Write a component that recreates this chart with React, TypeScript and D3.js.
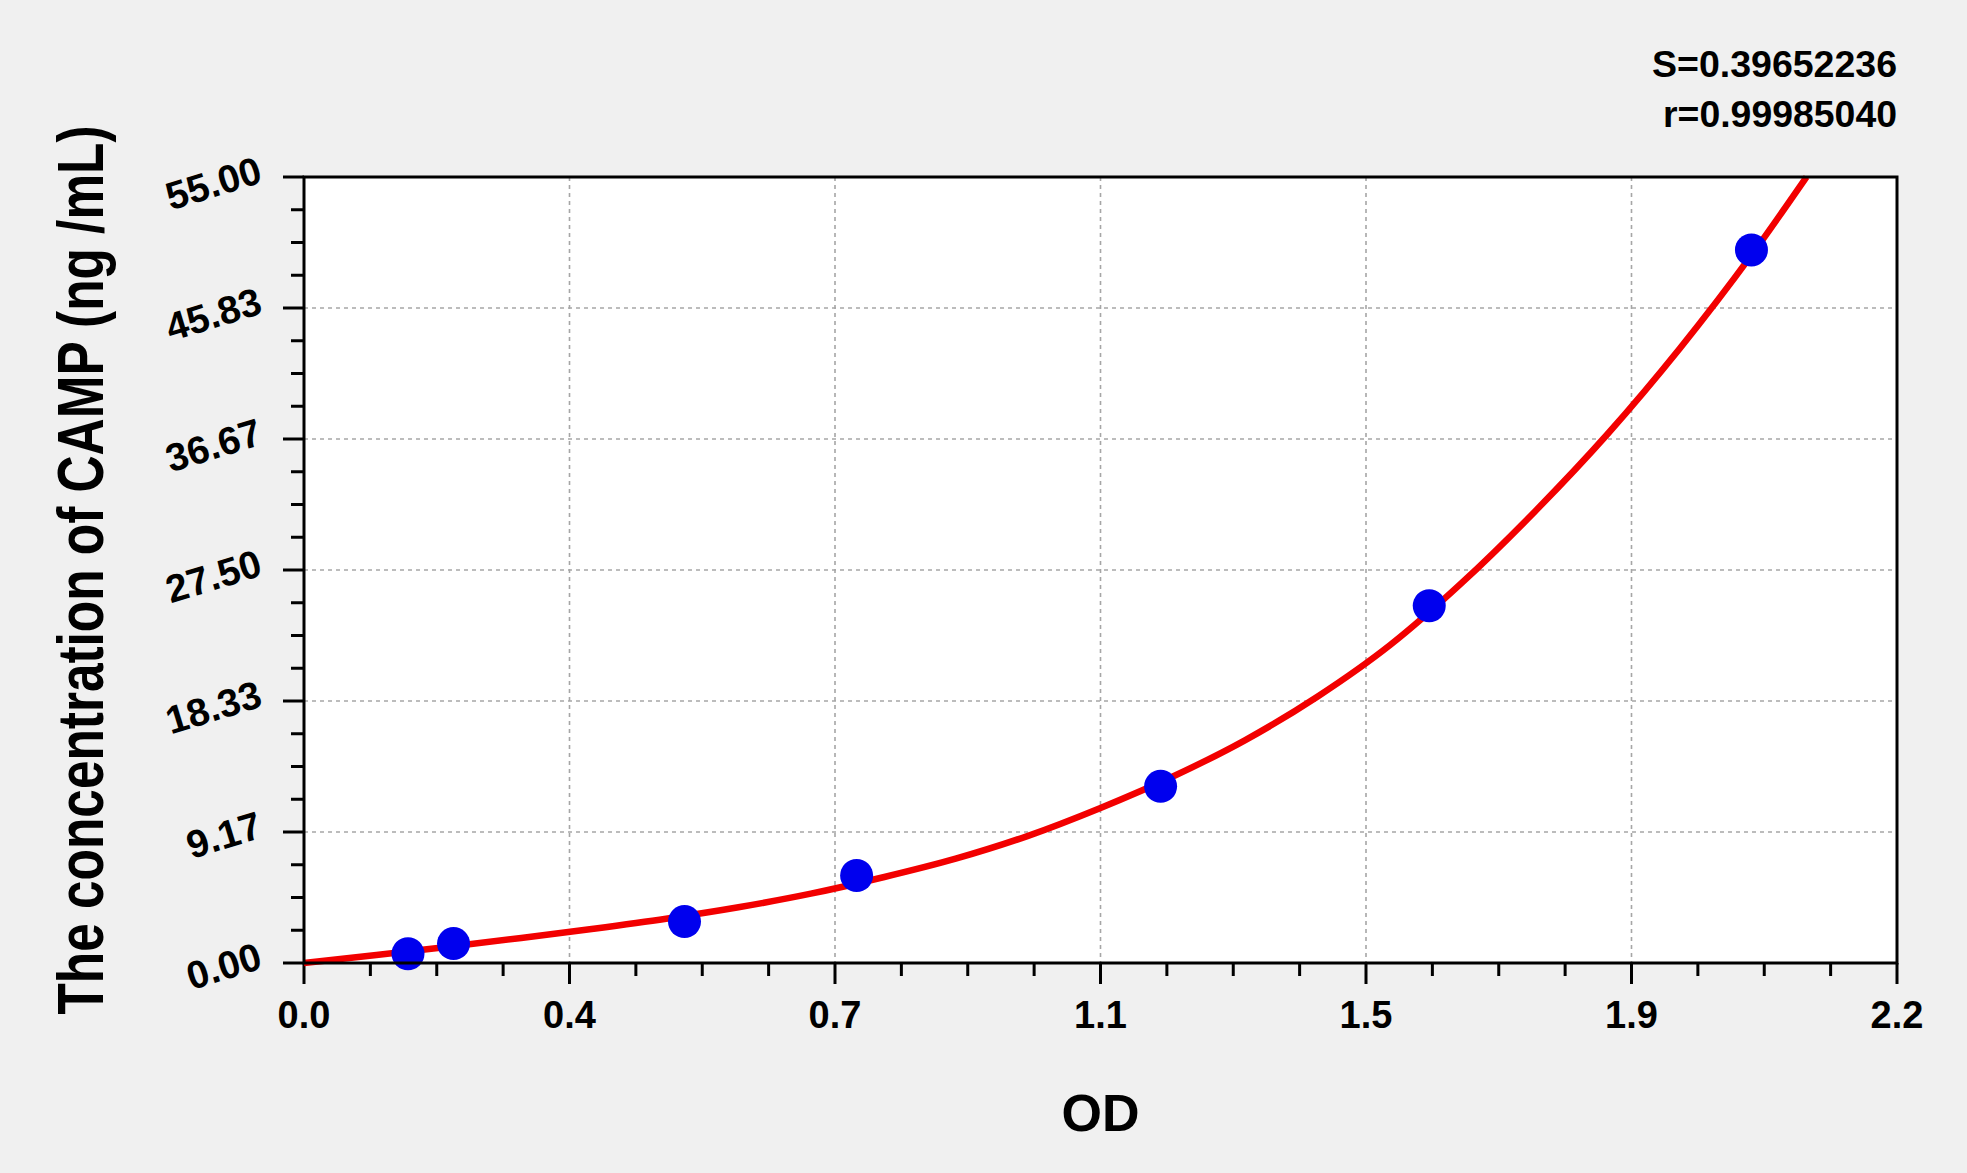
import * as d3 from "d3";

// standard points (OD vs concentration)
const odPoints = [0.1436, 0.2065, 0.5255, 0.7632, 1.183, 1.554, 1.999];
const concPoints = [0.65, 1.36, 2.9, 6.12, 12.36, 25.0, 49.9];

// fitted curve, read at regular OD steps
const fitOd = [0, 0.1, 0.2, 0.3, 0.4, 0.5, 0.6, 0.7, 0.8, 0.9, 1.0, 1.1, 1.2, 1.3, 1.4, 1.5, 1.6, 1.7, 1.8, 1.9, 2.0, 2.075];
const fitConc = [0, 0.56, 1.14, 1.75, 2.4, 3.1, 3.9, 4.85, 6.0, 7.3, 8.9, 10.85, 13.05, 15.6, 18.65, 22.25, 26.65, 31.6, 37.0, 43.0, 49.6, 55];

const xTickLabels = ["0.0", "0.4", "0.7", "1.1", "1.5", "1.9", "2.2"];
const yTickLabels = ["0.00", "9.17", "18.33", "27.50", "36.67", "45.83", "55.00"];

const statLines = ["S=0.39652236", "r=0.99985040"];

const W = 1967;
const H = 1173;
const left = 304;
const right = 1897;
const top = 177;
const bottom = 963;
const font = "'Liberation Sans', Arial, sans-serif";

export default function App() {
    const x = d3.scaleLinear().domain([0, 2.2]).range([left, right]);
    const y = d3.scaleLinear().domain([0, 55]).range([bottom, top]);

    const majorX = d3.range(7).map((i) => (i * 2.2) / 6);
    const majorY = d3.range(7).map((i) => (i * 55) / 6);
    const minorX = d3.range(25).map((i) => (i * 2.2) / 24).filter((_d, i) => i % 4 !== 0);
    const minorY = d3.range(25).map((i) => (i * 55) / 24).filter((_d, i) => i % 4 !== 0);

    const fit = fitOd.map((d, i) => [d, fitConc[i]] as [number, number]);
    const line = d3
        .line<[number, number]>()
        .x((d) => x(d[0]))
        .y((d) => y(d[1]))
        .curve(d3.curveMonotoneX);

    return (
        <svg width={W} height={H} style={{ position: "absolute", left: 0, top: 0 }} fontFamily={font} fontWeight="bold">
            <rect width={W} height={H} fill="#f0f0f0" />
            <rect x={left} y={top} width={right - left} height={bottom - top} fill="#ffffff" />

            {/* grid */}
            <g stroke="#a6a6a6" strokeWidth={1.6} strokeDasharray="4,4">
                {majorX.slice(1, -1).map((d, i) => (
                    <line key={"gx" + i} x1={x(d)} x2={x(d)} y1={top} y2={bottom} />
                ))}
                {majorY.slice(1, -1).map((d, i) => (
                    <line key={"gy" + i} x1={left} x2={right} y1={y(d)} y2={y(d)} />
                ))}
            </g>

            {/* ticks */}
            <g stroke="#000" strokeWidth={3}>
                {majorX.map((d, i) => (
                    <line key={"tx" + i} x1={x(d)} x2={x(d)} y1={bottom} y2={bottom + 21} />
                ))}
                {minorX.map((d, i) => (
                    <line key={"mx" + i} x1={x(d)} x2={x(d)} y1={bottom} y2={bottom + 13} />
                ))}
                {majorY.map((d, i) => (
                    <line key={"ty" + i} x1={left - 21} x2={left} y1={y(d)} y2={y(d)} />
                ))}
                {minorY.map((d, i) => (
                    <line key={"my" + i} x1={left - 13} x2={left} y1={y(d)} y2={y(d)} />
                ))}
            </g>

            {/* fitted curve */}
            <path d={String(line(fit))} fill="none" stroke="#f20000" strokeWidth={6.5} />

            {/* points */}
            <g fill="#0000ee">
                {odPoints.map((d, i) => (
                    <circle key={i} cx={x(d)} cy={y(concPoints[i])} r={16.5} />
                ))}
            </g>

            <rect x={left} y={top} width={right - left} height={bottom - top} fill="none" stroke="#000" strokeWidth={3} />

            {/* tick labels */}
            <g fill="#000">
                {majorX.map((d, i) => (
                    <text key={"lx" + i} x={x(d)} y={1028} fontSize={38} textAnchor="middle">
                        {xTickLabels[i]}
                    </text>
                ))}
                {majorY.map((d, i) => (
                    <text
                        key={"ly" + i}
                        fontSize={39}
                        textAnchor="end"
                        transform={`translate(${left - 40},${y(d) + 5}) rotate(-17)`}
                    >
                        {yTickLabels[i]}
                    </text>
                ))}
            </g>

            {/* titles */}
            <text x={(left + right) / 2} y={1131} fontSize={52} textAnchor="middle">
                OD
            </text>
            <text
                transform={`translate(103,${(top + bottom) / 2}) rotate(-90)`}
                fontSize={64}
                textAnchor="middle"
                textLength={889}
                lengthAdjust="spacingAndGlyphs"
            >
                The concentration of CAMP (ng /mL)
            </text>

            <g fontSize={37} textAnchor="end">
                <text x={right} y={77} textLength={245} lengthAdjust="spacingAndGlyphs">
                    {statLines[0]}
                </text>
                <text x={right} y={127} textLength={234} lengthAdjust="spacingAndGlyphs">
                    {statLines[1]}
                </text>
            </g>
        </svg>
    );
}
